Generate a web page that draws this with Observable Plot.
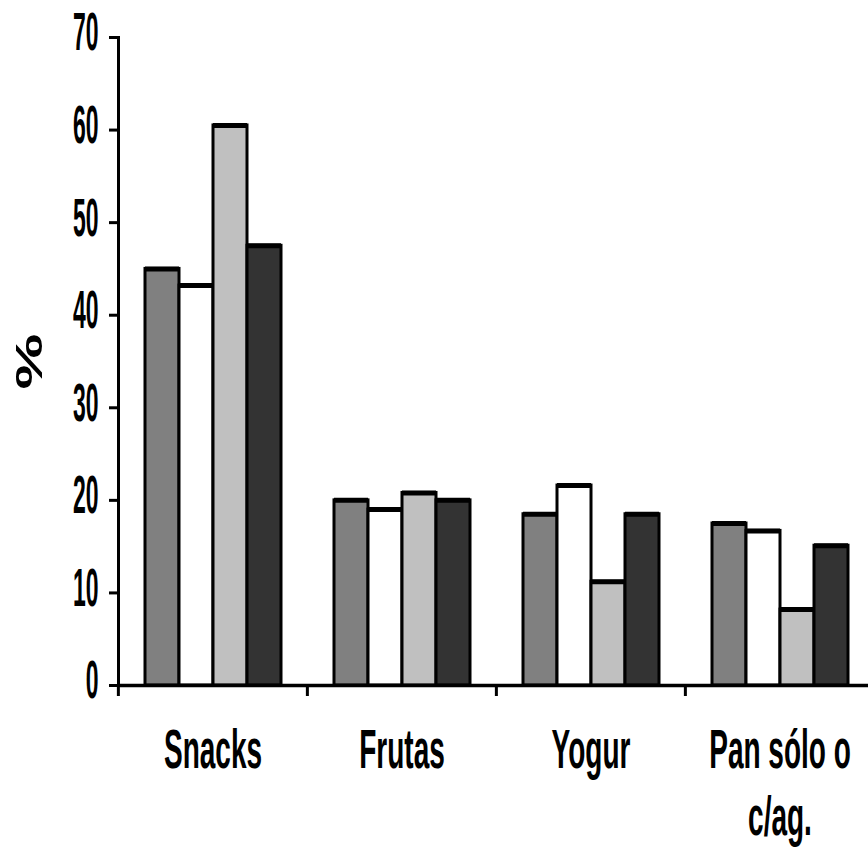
<!DOCTYPE html>
<html>
<head>
<meta charset="utf-8">
<script src="https://cdn.jsdelivr.net/npm/d3@7"></script>
<script src="https://cdn.jsdelivr.net/npm/@observablehq/plot@0.6"></script>
<style>
  html, body { margin: 0; padding: 0; background: white; overflow: hidden; }
  #chart svg { max-width: none !important; display: block; }
</style>
</head>
<body>
<div id="chart"></div>
<script>
const categories = ["Snacks", "Frutas", "Yogur", "Pan sólo o\nc/ag."];
const seriesNames = ["Serie 1", "Serie 2", "Serie 3", "Serie 4"];
const serie1 = [45.0, 20.0, 18.5, 17.5];
const serie2 = [43.2, 19.0, 21.6, 16.7];
const serie3 = [60.5, 20.8, 11.2, 8.2];
const serie4 = [47.5, 20.0, 18.5, 15.1];
const seriesColors = ["#808080", "#ffffff", "#c0c0c0", "#333333"];
const yTicks = [0, 10, 20, 30, 40, 50, 60, 70];

const allSeries = [serie1, serie2, serie3, serie4];
const data = [];
categories.forEach((c, ci) => {
  seriesNames.forEach((s, si) => {
    data.push({cat: c, series: s, value: allSeries[si][ci]});
  });
});

const W = 874, H = 856, mL = 117, mR = 0, mT = 37, mB = 171;
const facetStep = (W - mL - mR) / categories.length;

const chart = Plot.plot({
  width: W, height: H,
  marginLeft: mL, marginRight: mR, marginTop: mT, marginBottom: mB,
  style: {fontFamily: "'Liberation Sans', Arial, sans-serif", color: "black", background: "white"},
  fx: {domain: categories, padding: 0, axis: null, label: null},
  x: {domain: seriesNames, paddingInner: 0, paddingOuter: 0.73, axis: null},
  y: {domain: [0, 70], axis: null},
  color: {domain: seriesNames, range: seriesColors},
  marks: [
    Plot.barY(data, {fx: "cat", x: "series", y: "value", fill: "series", stroke: "black", strokeWidth: 3}),
    Plot.tickY(data, {fx: "cat", x: "series", y: "value", stroke: "black", strokeWidth: 5}),
    Plot.ruleY([0], {stroke: "black", strokeWidth: 3.5}),
    Plot.frame({anchor: "left", stroke: "black", strokeWidth: 3, facetAnchor: "left"}),
    Plot.axisY({ticks: yTicks, tickSize: 9, strokeWidth: 3, text: null, label: null}),
    Plot.axisY({ticks: yTicks, tickSize: 0, tickPadding: 20, dy: -4, label: null,
                fontSize: 23, fontWeight: "bold", tickFormat: d => String(d)}),
    Plot.axisFx({anchor: "bottom", tickSize: 11, strokeWidth: 3, dx: -facetStep / 2, text: null, label: null}),
    Plot.axisFx({anchor: "bottom", tickSize: 0, tickPadding: 35, label: null,
                 fontSize: 28, fontWeight: "bold", lineHeight: 1.2}),
    Plot.text(["%"], {frameAnchor: "left", textAnchor: "middle", lineAnchor: "middle", rotate: -90,
                      dx: -88, fontSize: 37, fontWeight: "bold", facetAnchor: "left"})
  ]
});

document.getElementById("chart").appendChild(chart);

// Stretch glyphs vertically to match the tall, condensed lettering of the original
d3.select(chart).selectAll("text").each(function() {
  const t = d3.select(this);
  let tr = t.attr("transform");
  if (!tr) {
    const x = t.attr("x") || 0, y = t.attr("y") || 0;
    t.attr("x", null).attr("y", null);
    tr = `translate(${x},${y})`;
  }
  const g = this.closest("g[aria-label]");
  const label = g ? g.getAttribute("aria-label") : "";
  if (/rotate/.test(tr)) t.attr("transform", tr + " scale(1.7,1)");
  else if (/y-axis/.test(label)) t.attr("transform", tr + " scale(1,2.3)");
  else t.attr("transform", tr + " scale(1,2.0)");
});
</script>
</body>
</html>
